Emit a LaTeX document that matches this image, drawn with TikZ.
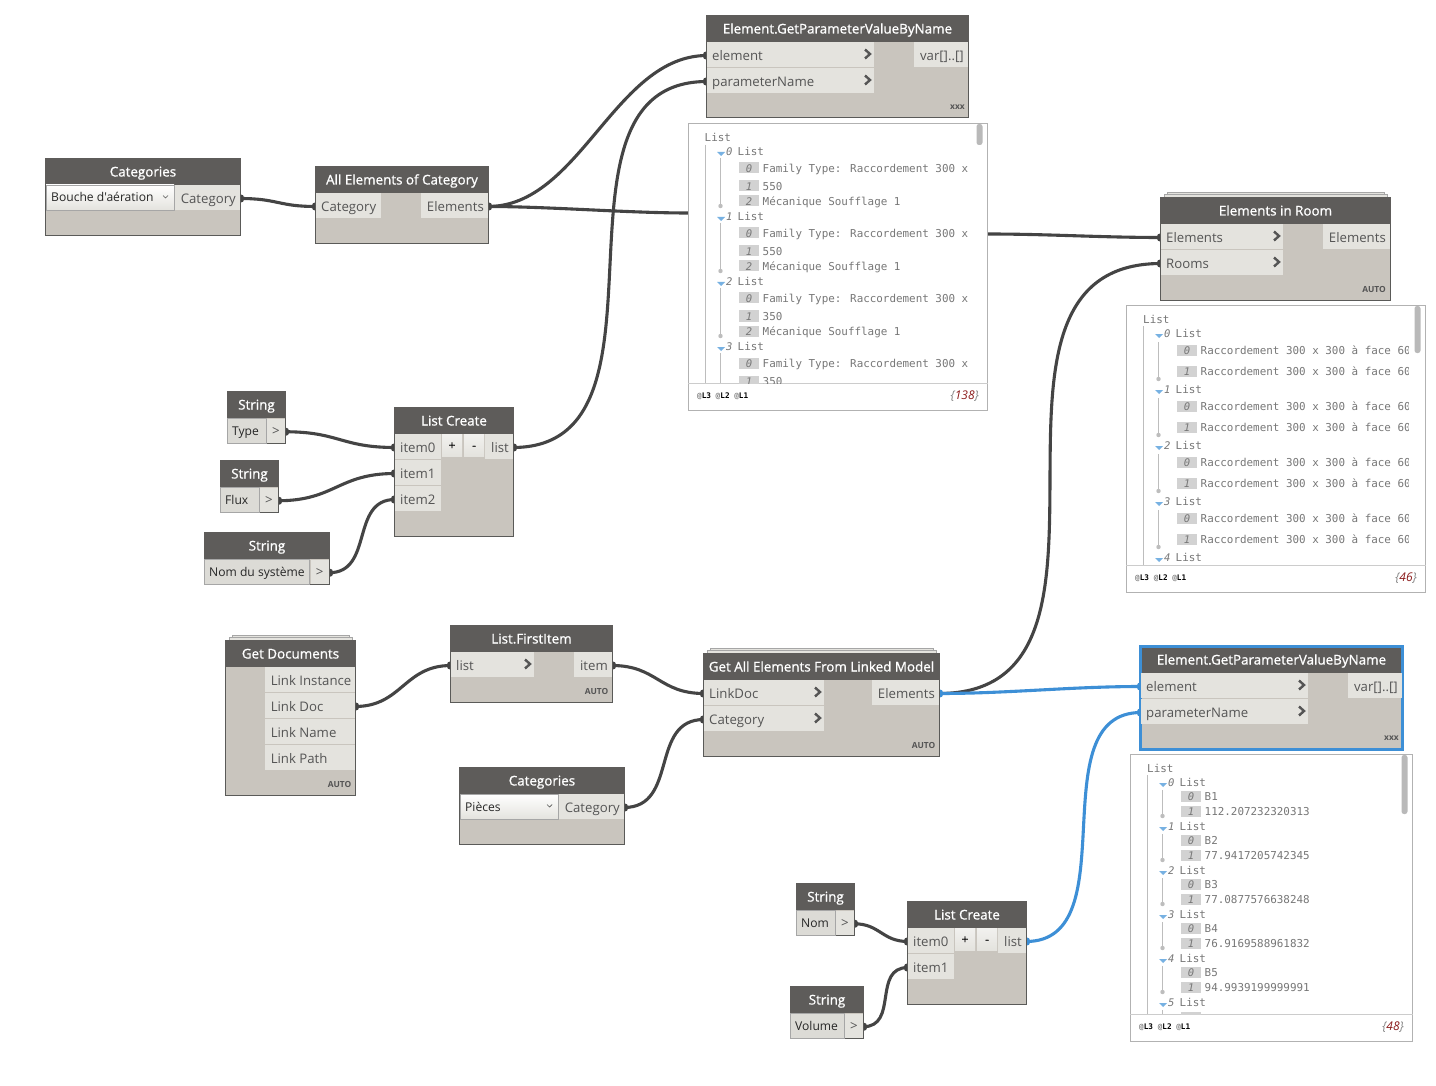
\documentclass[tikz,border=0pt]{standalone}
\usepackage{fontspec}
\setmainfont{Open Sans}
\newfontfamily\titlef[FakeBold=1]{Open Sans}
\newfontfamily\combof{Open Sans}
\newfontfamily\monof{DejaVu Sans Mono}
\pgfdeclarelayer{wires}
\pgfsetlayers{wires,main}
\definecolor{bodyc}{HTML}{C9C5BE}
\definecolor{headc}{HTML}{5E5C5A}
\definecolor{portc}{HTML}{E4E3DE}
\definecolor{edgec}{HTML}{5A5A58}
\definecolor{ptxtc}{HTML}{555555}
\definecolor{wirec}{HTML}{444444}
\definecolor{bluec}{HTML}{3D8FD6}
\definecolor{monoc}{HTML}{777777}
\definecolor{idxc}{HTML}{D2D2D2}
\definecolor{treec}{HTML}{BDBDBD}
\definecolor{redc}{HTML}{8B1A1A}
\tikzset{
  box/.style={anchor=north west,inner sep=0pt,outer sep=0pt},
  bodybox/.style={box,fill=bodyc,draw=edgec,line width=1pt},
  headbox/.style={box,fill=headc,text=white,font=\titlef\fontsize{13.4}{13}\selectfont,text height=10pt,text depth=0pt},
  portbox/.style={box,fill=portc,minimum height=25},
  ptxt/.style={inner sep=0pt,text=ptxtc,font=\fontsize{13.2}{13}\selectfont,text height=10pt,text depth=0pt},
  chev/.style={draw=ptxtc,line width=2.4pt,miter limit=10},
  stackbox/.style={fill=portc,draw=gray!70,line width=.8pt},
  btn/.style={box,top color=portc!50!white,bottom color=portc,minimum height=22,text=black,text height=9pt,text depth=0pt,font=\titlef\fontsize{12}{12}\selectfont},
  combobox/.style={box,top color=white,bottom color=portc,draw=gray!70,line width=.8pt,minimum height=25},
  strbox/.style={box,fill=portc!92!gray,draw=gray!70,line width=.8pt,minimum height=25},
  ctxt/.style={inner sep=0pt,text=black!85,font=\combof\fontsize{12.1}{13}\selectfont,text height=10pt,text depth=0pt},
  wire/.style={draw=wirec,line width=3.1pt},
  bluewire/.style={draw=bluec,line width=3.1pt},
  tag/.style={inner sep=0pt,anchor=east,text=ptxtc,font=\bfseries\fontsize{8.4}{8}\selectfont},
  watchbox/.style={box,fill=white,draw=gray!60,line width=.9pt},
  mono/.style={inner sep=0pt,anchor=base west,text=monoc,font=\monof\fontsize{10.9}{11}\selectfont},
  idxbox/.style={box,fill=idxc,minimum width=20,minimum height=11},
  idxtxt/.style={inner sep=0pt,anchor=base,text=monoc,font=\monof\itshape\fontsize{10.5}{11}\selectfont},
  lvlidx/.style={inner sep=0pt,anchor=base west,text=monoc,font=\monof\itshape\fontsize{10.5}{11}\selectfont},
  tree/.style={draw=treec,line width=.9pt},
  foot/.style={inner sep=0pt,anchor=west,text=black,font=\monof\bfseries\fontsize{7.7}{8}\selectfont},
  count/.style={inner sep=0pt,anchor=east,text=gray,font=\itshape\fontsize{12}{12}\selectfont},
}
% name x y w h title
\newcommand\gnode[6]{%
  \node[bodybox,minimum width=#4-1,minimum height=#5-1] (#1) at (#2+.5,#3+.5) {};
  \node[headbox,minimum width=#4,minimum height=27] (#1-h) at (#2,#3) {#6};}
% stacked sheets behind a node: x y w
\newcommand\stack[3]{%
  \path[stackbox] (#1+7,#2-5) rectangle (#1+#3-7,#2);
  \path[stackbox] (#1+4,#2-3) rectangle (#1+#3-4,#2);}
% name x y w text : input with left text
\newcommand\pin[5]{%
  \node[portbox,minimum width=#4] (#1) at (#2,#3) {};
  \node[ptxt,anchor=west] (#1-t) at (#2+5,#3+13.3) {#5};}
% same, with chevron
\newcommand\pinc[5]{%
  \pin{#1}{#2}{#3}{#4}{#5}
  \draw[chev] (#2+#4-9,#3+7.5) -- (#2+#4-4,#3+12) -- (#2+#4-9,#3+16.5);}
% name x y w text : output with right text
\newcommand\pout[5]{%
  \node[portbox,minimum width=#4] (#1) at (#2,#3) {};
  \node[ptxt,anchor=east] (#1-t) at (#2+#4-4,#3+13.3) {#5};}
% name x y w text
\newcommand\combo[5]{%
  \node[combobox,minimum width=#4] (#1) at (#2,#3) {};
  \node[ctxt,anchor=west] (#1-t) at (#2+5,#3+12) {#5};
  \draw[draw=ptxtc,line width=.7pt] (#2+#4-11,#3+10.5) -- (#2+#4-8.5,#3+13) -- (#2+#4-6,#3+10.5);}
% name x y w divider-x text
\newcommand\strn[6]{%
  \gnode{#1}{#2}{#3}{#4}{53}{String}
  \node[strbox,minimum width=#5-#2-1] (#1-b) at (#2+.5,#3+27) {};
  \node[ctxt,anchor=west] (#1-t) at (#2+5,#3+39.5) {#6};
  \node[portbox,minimum width=#2+#4-#5-1.5,minimum height=24.5] (#1-o) at (#5+.5,#3+27.5) {};
  \node[ptxt,anchor=center] (#1-g) at (#1-o.center) {>};}
% name x y w h divider-y scrollx scrolly scrollh
\newcommand\watch[9]{%
  \node[watchbox,minimum width=#4-1,minimum height=#5-1] (#1) at (#2+.5,#3+.5) {};
  \draw[draw=gray!40,line width=.9pt] (#2,#6) -- (#2+#4,#6);
  \fill[gray!55,rounded corners=2.5pt] (#7,#8) rectangle (#7+6,#8+#9);}
\newcount\wn
\newcommand\mt[3]{\global\advance\wn by 1 \node[mono] (m\the\wn) at (#1,#2+4.5) {#3};}
% tree-x y idx : level row
\newcommand\lv[3]{%
  \fill[bluec!70!white] (#1-4,#2+1) -- (#1+4,#2+1) -- (#1,#2+5) -- cycle;
  \global\advance\wn by 1 \node[lvlidx] (m\the\wn) at (#1+5,#2+4.5) {#3};
  \mt{#1+16.5}{#2}{List}}
% box-x y idx text
\newcommand\itm[4]{%
  \global\advance\wn by 1
  \node[idxbox] (b\the\wn) at (#1,#2-5.5) {};
  \node[idxtxt] (i\the\wn) at (#1+10,#2+4.5) {#3};
  \mt{#1+23.5}{#2}{#4}}
% name x y right-x count
\newcommand\foottxt[5]{%
  \node[foot] (#1) at (#2,#3+.5) {{\color{gray}@}L3 {\color{gray}@}L2 {\color{gray}@}L1};
  \node[count] (#1-c) at (#4,#3+.5) {\{{\color{redc}#5}\}};}
% from to dx1 dx2
\newcommand\wireto[5][wire]{%
  \begin{pgfonlayer}{wires}
  \draw[#1] ([yshift=-1pt]#2) .. controls +(#4,0) and +(-#5,0) .. ([yshift=-1pt]#3);
  \end{pgfonlayer}}
\newcommand\capit[2][wirec]{%
  \begin{pgfonlayer}{wires}\fill[#1] ([yshift=-1pt]#2) circle (4.4);\end{pgfonlayer}}
\begin{document}
\begin{tikzpicture}[x=1pt,y=-1pt]
\begin{pgfonlayer}{wires}
\fill[white] (0,0) rectangle (1436,1086);
\end{pgfonlayer}
\useasboundingbox (0,0) rectangle (1436,1086);

% Top GetParameter
\gnode{gp}{706}{15}{263}{103}{Element.GetParameterValueByName}
\pinc{gpE}{707}{42}{167}{element}
\pinc{gpP}{707}{68}{167}{parameterName}
\pout{gpO}{914}{42}{54}{var[]..[]}
\node[tag] (gpX) at (965,107) {xxx};

% Watch 1
\watch{w1}{688}{123}{300}{288}{383}{976.5}{124}{21}
\coordinate (w1in) at (688,212);
\coordinate (w1out) at (988,233);
\begin{scope}
\clip (689,124) rectangle (987,383);
\mt{704.5}{137}{List}
\draw[tree] (705,145) -- (705,383);
\foreach \y in {158,223,288} {\draw[tree] (720.5,\y) -- (720.5,\y+47); \fill[treec] (720.5,\y+48) circle (2.2);}
\draw[tree] (720.5,353) -- (720.5,383);
\lv{721}{151}{0}\itm{739}{168}{0}{Family Type: Raccordement 300 x}\itm{739}{186}{1}{550}\itm{739}{201}{2}{Mécanique Soufflage 1}
\lv{721}{216}{1}\itm{739}{233}{0}{Family Type: Raccordement 300 x}\itm{739}{251}{1}{550}\itm{739}{266}{2}{Mécanique Soufflage 1}
\lv{721}{281}{2}\itm{739}{298}{0}{Family Type: Raccordement 300 x}\itm{739}{316}{1}{350}\itm{739}{331}{2}{Mécanique Soufflage 1}
\lv{721}{346}{3}\itm{739}{363}{0}{Family Type: Raccordement 300 x}\itm{739}{381}{1}{350}
\end{scope}
\foottxt{f1}{697}{396}{979}{138}

% Categories 1
\gnode{c1}{45}{158}{196}{78}{Categories}
\combo{c1b}{46}{185}{128}{Bouche d'aération}
\pout{c1o}{175}{185}{65}{Category}
% All Elements
\gnode{ae}{315}{166}{174}{78}{All Elements of Category}
\pin{aeI}{316}{193}{65}{Category}
\pout{aeO}{421}{193}{67}{Elements}

% Strings + List Create
\strn{s1}{227}{391}{59}{266.5}{Type}
\strn{s2}{220}{460}{59}{259.5}{Flux}
\strn{s3}{204}{532}{126}{310}{Nom du système}
\gnode{lc}{394}{407}{120}{130}{List Create}
\pin{lcA}{395}{434}{46}{item0}
\pin{lcB}{395}{460}{46}{item1}
\pin{lcC}{395}{486}{46}{item2}
\node[btn,minimum width=20] (lcP) at (442,434) {+};
\node[btn,minimum width=20] (lcM) at (464,434) {-};
\pout{lcO}{485}{434}{28}{list}

% Elements in Room
\stack{1160}{197}{231}
\gnode{er}{1160}{197}{231}{104}{Elements in Room}
\pinc{erE}{1161}{224}{122}{Elements}
\pinc{erR}{1161}{250}{122}{Rooms}
\pout{erO}{1323}{224}{67}{Elements}
\node[tag] (erX) at (1386,289) {AUTO};

% Watch 2
\watch{w2}{1126}{305}{300}{288}{565}{1414.5}{306}{47}
\begin{scope}
\clip (1127,306) rectangle (1408,565);
\mt{1143}{319}{List}
\draw[tree] (1143,326) -- (1143,565);
\foreach \y in {342,398,454,510} {\draw[tree] (1158.5,\y) -- (1158.5,\y+36); \fill[treec] (1158.5,\y+37) circle (2.2);}
\lv{1159}{333}{0}\itm{1177}{350}{0}{Raccordement 300 x 300 à face 60}\itm{1177}{371}{1}{Raccordement 300 x 300 à face 60}
\lv{1159}{389}{1}\itm{1177}{406}{0}{Raccordement 300 x 300 à face 60}\itm{1177}{427}{1}{Raccordement 300 x 300 à face 60}
\lv{1159}{445}{2}\itm{1177}{462}{0}{Raccordement 300 x 300 à face 60}\itm{1177}{483}{1}{Raccordement 300 x 300 à face 60}
\lv{1159}{501}{3}\itm{1177}{518}{0}{Raccordement 300 x 300 à face 60}\itm{1177}{539}{1}{Raccordement 300 x 300 à face 60}
\lv{1159}{557}{4}
\end{scope}
\foottxt{f2}{1135}{578}{1417}{46}

% Get Documents
\stack{225}{640}{131}
\gnode{gd}{225}{640}{131}{156}{Get Documents}
\pout{gdA}{265}{667}{90}{\makebox[80pt][l]{Link Instance}}
\pout{gdB}{265}{693}{90}{\makebox[80pt][l]{Link Doc}}
\pout{gdC}{265}{719}{90}{\makebox[80pt][l]{Link Name}}
\pout{gdD}{265}{745}{90}{\makebox[80pt][l]{Link Path}}
\node[tag] (gdX) at (351.5,784) {AUTO};

% List.FirstItem
\gnode{fi}{450}{625}{163}{78}{List.FirstItem}
\pinc{fiI}{451}{652}{83}{list}
\pout{fiO}{574}{652}{38}{item}
\node[tag] (fiX) at (608.5,691) {AUTO};

% Categories 2
\gnode{c2}{459}{767}{166}{78}{Categories}
\combo{c2b}{460}{794}{98}{Pièces}
\pout{c2o}{559}{794}{65}{Category}

% Get All Elements
\stack{703}{653}{237}
\gnode{ga}{703}{653}{237}{104}{Get All Elements From Linked Model}
\pinc{gaL}{704}{680}{120}{LinkDoc}
\pinc{gaC}{704}{706}{120}{Category}
\pout{gaO}{872}{680}{67}{Elements}
\node[tag] (gaX) at (935.5,745) {AUTO};

% Selected GetParameter
\gnode{gs}{1140}{646}{263}{104}{Element.GetParameterValueByName}
\draw[draw=bluec,line width=2.5pt] (gs.north west) rectangle (gs.south east);
\pinc{gsE}{1141}{673}{167}{element}
\pinc{gsP}{1141}{699}{167}{parameterName}
\pout{gsO}{1348}{673}{54}{var[]..[]}
\node[tag] (gsX) at (1399,738) {xxx};

% Watch 3
\watch{w3}{1130}{754}{283}{288}{1014}{1401.5}{755}{59}
\begin{scope}
\clip (1131,755) rectangle (1400,1014);
\mt{1147}{768}{List}
\draw[tree] (1147,775) -- (1147,1014);
\foreach \y in {790,834,878,922,966} {\draw[tree] (1162.5,\y) -- (1162.5,\y+25); \fill[treec] (1162.5,\y+26) circle (2.2);}
\draw[tree] (1162.5,1010) -- (1162.5,1014);
\lv{1163}{782}{0}\itm{1181}{796}{0}{B1}\itm{1181}{811}{1}{112.207232320313}
\lv{1163}{826}{1}\itm{1181}{840}{0}{B2}\itm{1181}{855}{1}{77.9417205742345}
\lv{1163}{870}{2}\itm{1181}{884}{0}{B3}\itm{1181}{899}{1}{77.0877576638248}
\lv{1163}{914}{3}\itm{1181}{928}{0}{B4}\itm{1181}{943}{1}{76.9169588961832}
\lv{1163}{958}{4}\itm{1181}{972}{0}{B5}\itm{1181}{987}{1}{94.9939199999991}
\lv{1163}{1002}{5}
\node[idxbox] (bLast) at (1181,1012) {};
\end{scope}
\foottxt{f3}{1139}{1027}{1404}{48}

% Strings + List Create 2
\strn{s4}{796}{883}{59}{835.5}{Nom}
\strn{s5}{790}{986}{74}{844.5}{Volume}
\gnode{ld}{907}{901}{120}{104}{List Create}
\pin{ldA}{908}{928}{46}{item0}
\pin{ldB}{908}{954}{46}{item1}
\node[btn,minimum width=20] (ldP) at (955,928) {+};
\node[btn,minimum width=20] (ldM) at (977,928) {-};
\pout{ldO}{998}{928}{28}{list}

% Connectors
\wireto{c1o.east}{aeI.west}{38}{38}
\wireto{aeO.east}{gpE.west}{92}{92}
\wireto{aeO.east}{w1in}{60}{60}
\wireto{lcO.east}{gpP.west}{176}{176}
\wireto{w1out}{erE.west}{60}{60}
\wireto{gaO.east}{erR.west}{220}{220}
\wireto{s1-o.east}{lcA.west}{54}{54}
\wireto{s2-o.east}{lcB.west}{57}{57}
\wireto{s3-o.east}{lcC.west}{45}{45}
\wireto{gdB.east}{fiI.west}{47}{47}
\wireto{fiO.east}{gaL.west}{45}{45}
\wireto{c2o.east}{gaC.west}{55}{55}
\wireto{s4-o.east}{ldA.west}{26}{26}
\wireto{s5-o.east}{ldB.west}{36}{36}
\wireto[bluewire]{gaO.east}{gsE.west}{70}{70}
\wireto[bluewire]{ldO.east}{gsP.west}{103}{103}
\foreach \p in {c1o.east,aeI.west,aeO.east,gpE.west,gpP.west,lcO.east,erE.west,erR.west,s1-o.east,lcA.west,s2-o.east,lcB.west,s3-o.east,lcC.west,gdB.east,fiI.west,fiO.east,gaL.west,c2o.east,gaC.west,s4-o.east,ldA.west,s5-o.east,ldB.west} {\capit{\p}}
\foreach \p in {gaO.east,gsE.west,gsP.west,ldO.east} {\capit[bluec]{\p}}
\end{tikzpicture}
\end{document}
